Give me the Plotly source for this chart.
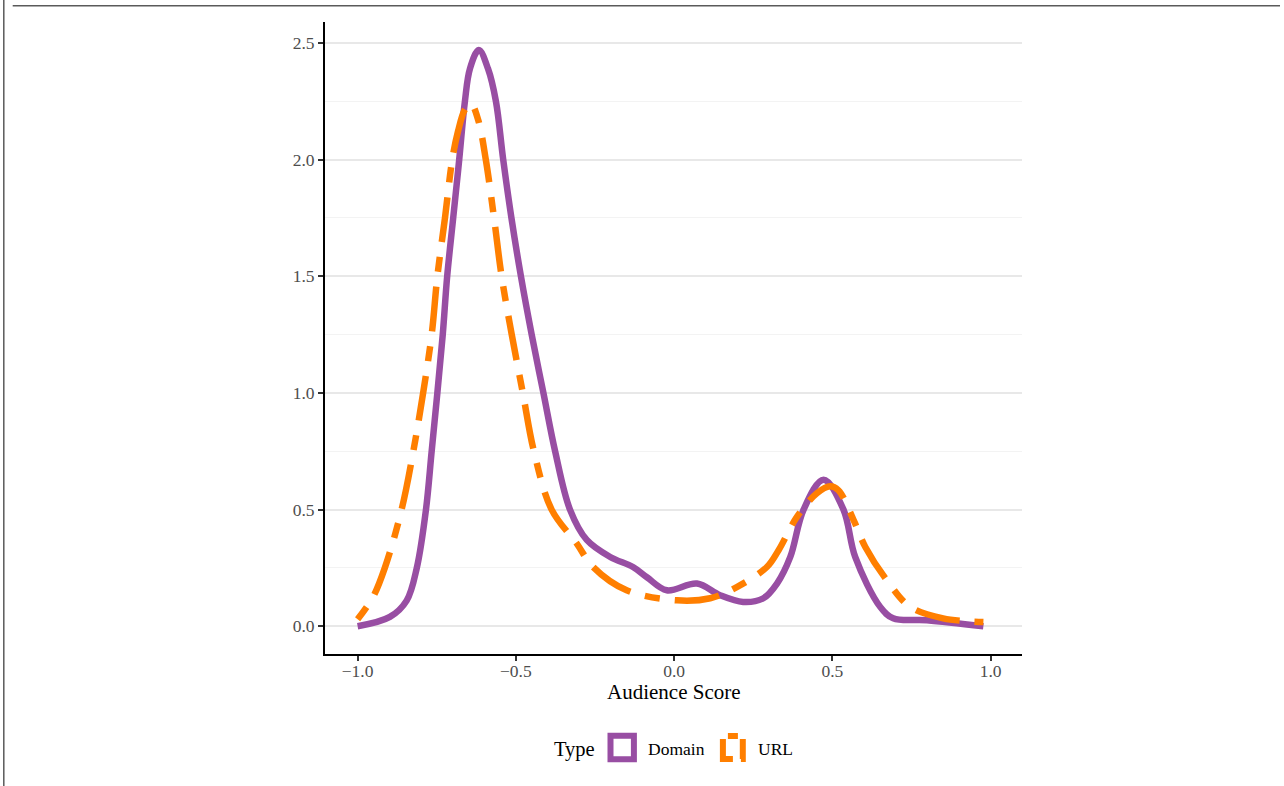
import plotly.graph_objects as go

# ---- data ----
domain_x = [-1.0, -0.898, -0.845, -0.813, -0.784, -0.766, -0.748, -0.731, -0.717, -0.698,
            -0.679, -0.661, -0.645, -0.617, -0.588, -0.563, -0.540, -0.514, -0.484, -0.450,
            -0.413, -0.376, -0.329, -0.276, -0.202, -0.130, -0.086, -0.023, 0.072, 0.145,
            0.218, 0.282, 0.325, 0.367, 0.409, 0.472, 0.535, 0.572, 0.651, 0.692,
            0.799, 0.977]
domain_y = [0.0, 0.04, 0.11, 0.25, 0.50, 0.75, 1.00, 1.25, 1.50, 1.75,
            2.00, 2.25, 2.39, 2.47, 2.39, 2.25, 2.00, 1.75, 1.50, 1.25,
            1.00, 0.75, 0.50, 0.37, 0.297, 0.254, 0.21, 0.154, 0.183, 0.133,
            0.104, 0.12, 0.183, 0.297, 0.50, 0.628, 0.50, 0.297, 0.083, 0.034,
            0.026, 0.0]

url_x = [-1.0, -0.951, -0.914, -0.861, -0.824, -0.793, -0.766, -0.748, -0.724, -0.701,
         -0.683, -0.661, -0.642, -0.619, -0.595, -0.569, -0.545, -0.513, -0.478, -0.443,
         -0.387, -0.308, -0.256, -0.150, 0.009, 0.114, 0.198, 0.293, 0.330, 0.388,
         0.451, 0.493, 0.519, 0.567, 0.604, 0.672, 0.746, 0.850, 0.977]
url_y = [0.03, 0.126, 0.25, 0.50, 0.75, 1.00, 1.25, 1.50, 1.75, 2.00,
         2.12, 2.215, 2.24, 2.17, 2.00, 1.75, 1.50, 1.25, 1.00, 0.75,
         0.50, 0.355, 0.254, 0.154, 0.111, 0.12, 0.168, 0.254, 0.326, 0.469,
         0.57, 0.60, 0.583, 0.455, 0.34, 0.197, 0.083, 0.034, 0.018]

series_names = ["Domain", "URL"]
series_colors = ["#984EA3", "#FF7F00"]
legend_title = "Type"
x_title = "Audience Score"
x_tickvals = [-1.0, -0.5, 0.0, 0.5, 1.0]
x_ticktext = ["\u22121.0", "\u22120.5", "0.0", "0.5", "1.0"]
y_tickvals = [0.0, 0.5, 1.0, 1.5, 2.0, 2.5]
y_ticktext = ["0.0", "0.5", "1.0", "1.5", "2.0", "2.5"]

FONT = "Liberation Serif, Times New Roman, serif"
DASH = "15px,15px,45px,15px"

fig = go.Figure()
fig.add_trace(go.Scatter(x=domain_x, y=domain_y, mode="lines", name=series_names[0],
                         line=dict(color=series_colors[0], width=6.5, shape="spline", smoothing=1.0),
                         showlegend=False, hoverinfo="skip"))
fig.add_trace(go.Scatter(x=url_x, y=url_y, mode="lines", name=series_names[1],
                         line=dict(color=series_colors[1], width=6.5, dash=DASH,
                                   shape="spline", smoothing=1.0),
                         showlegend=False, hoverinfo="skip"))

L, R, T, B = 325, 262, 22, 132
W, H = 1284, 786
PW, PH = W - L - R, H - T - B


def px_x(p):
    return (p - L) / PW


def px_y(p):
    return (H - B - p) / PH


shapes = [
    # outer frame lines
    dict(type="line", xref="paper", yref="paper", x0=px_x(12.7), x1=px_x(1280), y0=px_y(5.7), y1=px_y(5.7),
         line=dict(color="#5a5a5a", width=1.5)),
    dict(type="line", xref="paper", yref="paper", x0=px_x(3.8), x1=px_x(3.8), y0=px_y(786), y1=px_y(0),
         line=dict(color="#5a5a5a", width=1.5)),
    # legend keys
    dict(type="rect", xref="paper", yref="paper", x0=px_x(610.5), x1=px_x(633.9), y0=px_y(759.2), y1=px_y(735.8),
         line=dict(color=series_colors[0], width=6), fillcolor="rgba(0,0,0,0)"),
    dict(type="rect", xref="paper", yref="paper", x0=px_x(722.9), x1=px_x(742.8), y0=px_y(759.1), y1=px_y(735.9),
         line=dict(color=series_colors[1], width=6, dash="10px,8px,22px,8px"), fillcolor="rgba(0,0,0,0)"),
]

annotations = [
    dict(text=x_title, xref="paper", yref="paper", x=px_x(673.5), y=px_y(692), xanchor="center",
         yanchor="middle", showarrow=False, font=dict(family=FONT, size=21, color="#000000")),
    dict(text=legend_title, xref="paper", yref="paper", x=px_x(574), y=px_y(749), xanchor="center",
         yanchor="middle", showarrow=False, font=dict(family=FONT, size=20.5, color="#000000")),
    dict(text=series_names[0], xref="paper", yref="paper", x=px_x(646), y=px_y(749), xanchor="left",
         yanchor="middle", showarrow=False, font=dict(family=FONT, size=17.5, color="#000000")),
    dict(text=series_names[1], xref="paper", yref="paper", x=px_x(756), y=px_y(749), xanchor="left",
         yanchor="middle", showarrow=False, font=dict(family=FONT, size=17.5, color="#000000")),
]

fig.update_layout(
    width=W, height=H,
    margin=dict(l=L, r=R, t=T, b=B, autoexpand=False),
    paper_bgcolor="white", plot_bgcolor="white",
    showlegend=False,
    shapes=shapes,
    annotations=annotations,
    font=dict(family=FONT),
    xaxis=dict(
        range=[-1.103, 1.099], tickvals=x_tickvals, ticktext=x_ticktext,
        showgrid=False, zeroline=False,
        showline=True, linecolor="#000000", linewidth=2,
        ticks="outside", ticklen=5, tickwidth=1.5, tickcolor="#333333",
        ticklabelstandoff=-5,
        tickfont=dict(family=FONT, size=17.5, color="#4d4d4d"),
        automargin=False, fixedrange=True,
    ),
    yaxis=dict(
        range=[-0.119, 2.59], tickvals=y_tickvals, ticktext=y_ticktext,
        showgrid=True, gridcolor="#e8e8e8", gridwidth=1.6, zeroline=False,
        showline=True, linecolor="#000000", linewidth=2,
        ticks="outside", ticklen=5, tickwidth=1.5, tickcolor="#333333",
        tickfont=dict(family=FONT, size=17.5, color="#4d4d4d"),
        minor=dict(tickvals=[0.25, 0.75, 1.25, 1.75, 2.25], showgrid=True,
                   gridcolor="#f3f3f3", gridwidth=1.2, ticks=""),
        automargin=False, fixedrange=True,
    ),
)

fig.write_html("out.html", config={"displayModeBar": False})
